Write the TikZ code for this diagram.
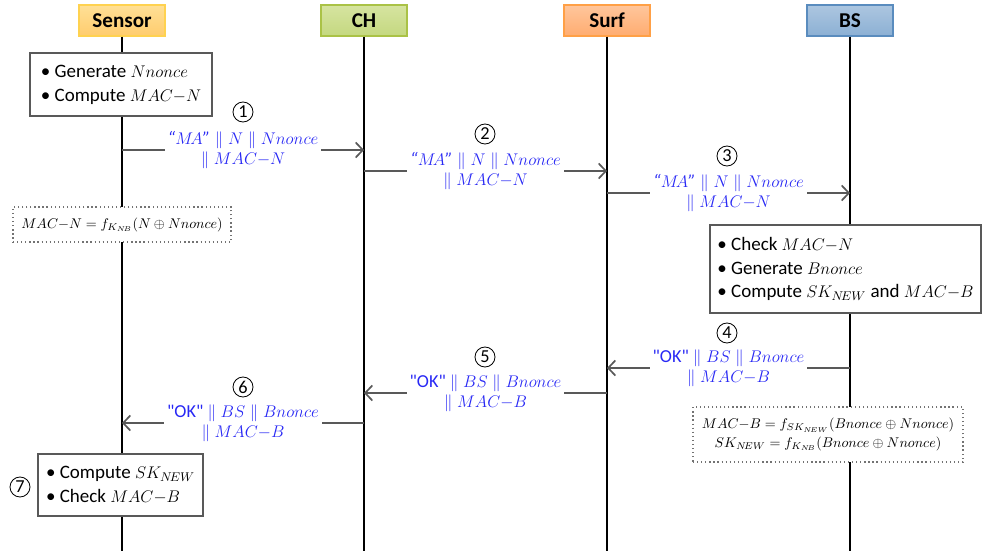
\documentclass[tikz,border=0pt]{standalone}
\usepackage{amsmath,amssymb}
\usepackage{fontspec}
\setmainfont{Carlito}
\usetikzlibrary{arrows.meta}
\DeclareMathSizes{13.5}{12.5}{9}{7}
\DeclareMathSizes{13}{12}{8.5}{6.5}
\definecolor{senstop}{RGB}{255,224,150}
\definecolor{sensbot}{RGB}{255,204,110}
\definecolor{sensline}{RGB}{255,210,80}
\definecolor{chtop}{RGB}{214,228,160}
\definecolor{chbot}{RGB}{196,216,128}
\definecolor{chline}{RGB}{170,194,70}
\definecolor{surftop}{RGB}{255,198,156}
\definecolor{surfbot}{RGB}{255,172,112}
\definecolor{surfline}{RGB}{255,160,70}
\definecolor{bstop}{RGB}{172,198,224}
\definecolor{bsbot}{RGB}{140,176,212}
\definecolor{bsline}{RGB}{90,140,190}
\definecolor{msgblue}{RGB}{40,40,245}

\begin{document}
\begin{tikzpicture}[x=0.025cm,y=-0.025cm,
  actor/.style={draw,line width=0.8pt,minimum width=2.15cm,minimum height=0.775cm,font=\fontsize{15}{15}\selectfont\bfseries},
  life/.style={line width=1.3pt},
  act/.style={draw=black!65,line width=1.3pt,fill=white,align=left,font=\fontsize{13.5}{17}\selectfont},
  note/.style={draw=black!55,dotted,line width=0.9pt,fill=white,align=center,font=\fontsize{10}{13}\selectfont},
  msg/.style={draw=black!65,line width=1.2pt,-{Straight Barb[length=1.8mm,width=3.8mm]}},
  lbl/.style={fill=white,text=msgblue,align=center,font=\fontsize{13}{14.5}\selectfont,inner sep=2pt},
  num/.style={draw,circle,line width=0.6pt,inner sep=0pt,minimum size=0.5cm,font=\fontsize{13}{13}\selectfont}]
\useasboundingbox (0,0) rectangle (983,551);

% participants
\node[actor,draw=sensline,top color=senstop,bottom color=sensbot] (sensor) at (122,20.5) {Sensor};
\node[actor,draw=chline,top color=chtop,bottom color=chbot] (ch) at (364,20.5) {CH};
\node[actor,draw=surfline,top color=surftop,bottom color=surfbot] (surf) at (607,20.5) {Surf};
\node[actor,draw=bsline,top color=bstop,bottom color=bsbot] (bs) at (850,20.5) {BS};

\coordinate (sensorend) at (122,551);
\coordinate (chend) at (364,551);
\coordinate (surfend) at (607,551);
\coordinate (bsend) at (850,551);
\draw[life] (sensor) -- (sensorend);
\draw[life] (ch) -- (chend);
\draw[life] (surf) -- (surfend);
\draw[life] (bs) -- (bsend);

% local computations
\node[act,minimum width=4.55cm,minimum height=1.575cm] (gen) at (121,84.5)
  {• Generate $Nnonce$\\• Compute $MAC{-}N$};
\node[note,minimum width=5.45cm,minimum height=0.875cm] (macn) at (122,224.5)
  {$MAC{-}N = f_{K_{N\!B}}(N \oplus Nnonce)$};
\node[act,minimum width=6.775cm,minimum height=2.2cm] (check) at (845.5,269)
  {• Check $MAC{-}N$\\• Generate $Bnonce$\\• Compute $SK_{N\!EW}$ and $MAC{-}B$};
\node[note,minimum width=6.75cm,minimum height=1.375cm] (macb) at (828,434.5)
  {$MAC{-}B = f_{SK_{N\!EW}}(Bnonce \oplus Nnonce)$\\$SK_{N\!EW} = f_{K_{N\!B}}(Bnonce \oplus Nnonce)$};
\node[act,minimum width=4.125cm,minimum height=1.55cm] (fin) at (120.5,485)
  {• Compute $SK_{N\!EW}$\\• Check $MAC{-}B$};

% messages
\coordinate (m1a) at (122,150);  \coordinate (m1b) at (364,150);
\coordinate (m2a) at (364,171);  \coordinate (m2b) at (607,171);
\coordinate (m3a) at (607,193);  \coordinate (m3b) at (850,193);
\coordinate (m4a) at (850,368);  \coordinate (m4b) at (607,368);
\coordinate (m5a) at (607,393);  \coordinate (m5b) at (364,393);
\coordinate (m6a) at (364,423);  \coordinate (m6b) at (122,423);

\draw[msg] (m1a) -- (m1b) node[lbl,midway] (l1)
  {$\textit{“}M\!A\textit{”} \parallel N \parallel Nnonce$\\$\parallel MAC{-}N$};
\draw[msg] (m2a) -- (m2b) node[lbl,midway] (l2)
  {$\textit{“}M\!A\textit{”} \parallel N \parallel Nnonce$\\$\parallel MAC{-}N$};
\draw[msg] (m3a) -- (m3b) node[lbl,midway] (l3)
  {$\textit{“}M\!A\textit{”} \parallel N \parallel Nnonce$\\$\parallel MAC{-}N$};
\draw[msg] (m4a) -- (m4b) node[lbl,midway] (l4)
  {\textquotedbl OK\textquotedbl{} $\parallel BS \parallel Bnonce$\\$\parallel MAC{-}B$};
\draw[msg] (m5a) -- (m5b) node[lbl,midway] (l5)
  {\textquotedbl OK\textquotedbl{} $\parallel BS \parallel Bnonce$\\$\parallel MAC{-}B$};
\draw[msg] (m6a) -- (m6b) node[lbl,midway] (l6)
  {\textquotedbl OK\textquotedbl{} $\parallel BS \parallel Bnonce$\\$\parallel MAC{-}B$};

% step numbers
\node[num] (n1) at (243,112) {1};
\node[num] (n2) at (485,134) {2};
\node[num] (n3) at (727,156) {3};
\node[num] (n4) at (727,333) {4};
\node[num] (n5) at (485,357) {5};
\node[num] (n6) at (243,387) {6};
\node[num] (n7) at (20,487) {7};
\end{tikzpicture}
\end{document}
